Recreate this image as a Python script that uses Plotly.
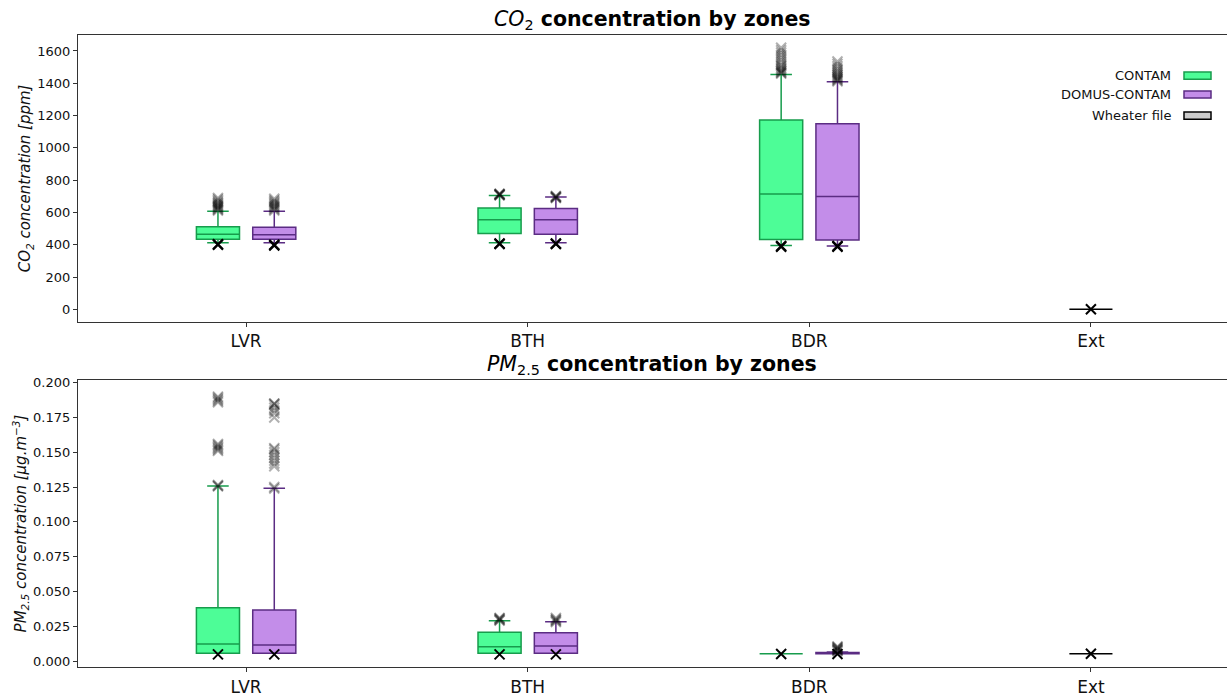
import plotly.graph_objects as go

# ---------------- data ----------------
zones = ["LVR", "BTH", "BDR", "Ext"]
series = ["CONTAM", "DOMUS-CONTAM", "Wheater file"]

# CO2 box statistics (ppm) per series, per zone
co2_contam_q1 = [434, 470, 432]
co2_contam_med = [465, 555, 714]
co2_contam_q3 = [512, 628, 1173]
co2_contam_lo = [413, 412, 395]
co2_contam_hi = [607, 705, 1455]

co2_domus_q1 = [434, 465, 430]
co2_domus_med = [462, 555, 699]
co2_domus_q3 = [508, 625, 1150]
co2_domus_lo = [413, 412, 393]
co2_domus_hi = [607, 695, 1409]

co2_ext = [0.0]  # weather file (Ext) stats: all zero

# CO2 outliers (high, low) per zone
co2_contam_out_hi = [
    [612, 618, 625, 630, 636, 642, 648, 655, 662, 670, 680, 690],
    [706, 708, 710, 712, 714, 716],
    [1460, 1465, 1470, 1478, 1485, 1495, 1505, 1515, 1530, 1545, 1560, 1575, 1590, 1605, 1620],
]
co2_contam_out_lo = [[400, 404], [405, 408], [388, 392]]
co2_domus_out_hi = [
    [612, 620, 628, 635, 642, 650, 658, 666, 675, 685],
    [690, 693, 696, 699, 702],
    [1412, 1418, 1424, 1430, 1437, 1444, 1452, 1460, 1470, 1480, 1492, 1505, 1520, 1535],
]
co2_domus_out_lo = [[395, 400], [405, 408], [388, 392]]
co2_ext_out = [0.0]

# PM2.5 box statistics (ug/m3)
pm_contam_q1 = [0.0055, 0.0055, 0.0052]
pm_contam_med = [0.0122, 0.0103, 0.0052]
pm_contam_q3 = [0.0383, 0.0206, 0.0052]
pm_contam_lo = [0.0055, 0.0055, 0.0052]
pm_contam_hi = [0.1258, 0.0290, 0.0052]

pm_domus_q1 = [0.0055, 0.0055, 0.0052]
pm_domus_med = [0.0115, 0.0108, 0.0055]
pm_domus_q3 = [0.0367, 0.0203, 0.0062]
pm_domus_lo = [0.0055, 0.0055, 0.0052]
pm_domus_hi = [0.1241, 0.0282, 0.0065]

pm_ext = [0.0052]

pm_contam_out_hi = [
    [0.1255, 0.126, 0.1265, 0.151, 0.152, 0.153, 0.154, 0.155, 0.156, 0.186, 0.187, 0.188, 0.189, 0.190],
    [0.029, 0.0295, 0.030, 0.0305, 0.031],
    [],
]
pm_contam_out_lo = [[0.0048], [0.0048], [0.0050]]
pm_domus_out_hi = [
    [0.124, 0.125, 0.140, 0.142, 0.144, 0.146, 0.148, 0.150, 0.152, 0.153, 0.175, 0.178, 0.180, 0.182, 0.184, 0.185, 0.185],
    [0.028, 0.0288, 0.0295, 0.030, 0.031],
    [0.007, 0.0075, 0.008, 0.0085, 0.009, 0.0095, 0.010, 0.0105],
]
pm_domus_out_lo = [[0.0048], [0.0048], [0.0050]]
pm_ext_out = [0.0052]

co2_ticks = [0, 200, 400, 600, 800, 1000, 1200, 1400, 1600]
pm_ticks = [0.0, 0.025, 0.05, 0.075, 0.1, 0.125, 0.15, 0.175, 0.2]

# ---------------- style ----------------
GREEN_F, GREEN_L = "#4dfd97", "#179c4c"
PURP_F, PURP_L = "#c38de9", "#5b2c83"
GREY_F, GREY_L = "#cccccc", "#000000"
FONT = "DejaVu Sans"
OFF = 0.1
BW = 0.153

fig = go.Figure()


def add_box(pos, q1, med, q3, lo, hi, fill, line, xa, ya):
    fig.add_trace(go.Box(
        x=[pos], q1=[q1], median=[med], q3=[q3], lowerfence=[lo], upperfence=[hi],
        width=BW, whiskerwidth=0.5, fillcolor=fill,
        line=dict(color=line, width=1.5), boxpoints=False,
        xaxis=xa, yaxis=ya, showlegend=False, hoverinfo="skip"))


def add_out(xs, ys, op, xa, ya):
    if not ys:
        return
    fig.add_trace(go.Scatter(
        x=xs, y=ys, mode="markers", xaxis=xa, yaxis=ya, showlegend=False,
        marker=dict(symbol="x-thin", size=10, color="black", opacity=op,
                    line=dict(width=2, color="black")), hoverinfo="skip"))


def panel(xa, ya, cq1, cmed, cq3, clo, chi, dq1, dmed, dq3, dlo, dhi, ext,
          c_hi, c_lo, d_hi, d_lo, ext_out):
    for i in range(3):
        add_box(i - OFF, cq1[i], cmed[i], cq3[i], clo[i], chi[i], GREEN_F, GREEN_L, xa, ya)
        add_box(i + OFF, dq1[i], dmed[i], dq3[i], dlo[i], dhi[i], PURP_F, PURP_L, xa, ya)
        add_out([i - OFF] * len(c_hi[i]), c_hi[i], 0.3, xa, ya)
        add_out([i + OFF] * len(d_hi[i]), d_hi[i], 0.3, xa, ya)
        add_out([i - OFF] * len(c_lo[i]), c_lo[i], 1.0, xa, ya)
        add_out([i + OFF] * len(d_lo[i]), d_lo[i], 1.0, xa, ya)
    add_box(3, ext[0], ext[0], ext[0], ext[0], ext[0], GREY_F, GREY_L, xa, ya)
    add_out([3] * len(ext_out), ext_out, 1.0, xa, ya)


panel("x", "y", co2_contam_q1, co2_contam_med, co2_contam_q3, co2_contam_lo, co2_contam_hi,
      co2_domus_q1, co2_domus_med, co2_domus_q3, co2_domus_lo, co2_domus_hi, co2_ext,
      co2_contam_out_hi, co2_contam_out_lo, co2_domus_out_hi, co2_domus_out_lo, co2_ext_out)
panel("x2", "y2", pm_contam_q1, pm_contam_med, pm_contam_q3, pm_contam_lo, pm_contam_hi,
      pm_domus_q1, pm_domus_med, pm_domus_q3, pm_domus_lo, pm_domus_hi, pm_ext,
      pm_contam_out_hi, pm_contam_out_lo, pm_domus_out_hi, pm_domus_out_lo, pm_ext_out)

axis_common = dict(showline=True, mirror=True, linecolor="#333333", linewidth=1.2,
                   ticks="outside", ticklen=4, tickcolor="#333333", showgrid=False,
                   zeroline=False, automargin=False)
xcommon = dict(axis_common, tickvals=[0, 1, 2, 3], ticktext=zones, range=[-0.597, 3.501],
               tickfont=dict(size=17, color="#111"))

# figure runs a few px past the right edge of the window (as the reference is cropped)
W, H = 1232, 695
L, T, B = 78, 35, 28
PW, PH = W - L, H - T - B

fig.update_layout(
    width=W, height=H,
    margin=dict(l=L, r=0, t=T, b=B, autoexpand=False),
    plot_bgcolor="white", paper_bgcolor="white",
    font=dict(family=FONT, color="#111"),
    boxmode="overlay",
    xaxis=dict(xcommon, anchor="y", domain=[0, 1]),
    xaxis2=dict(xcommon, anchor="y2", domain=[0, 1]),
    yaxis=dict(axis_common, domain=[0.546, 1], range=[-78, 1699], tickvals=co2_ticks,
               tickfont=dict(size=13, color="#111"),
               title=dict(text="<i>CO<sub>2</sub> concentration [ppm]</i>",
                          font=dict(size=15), standoff=2)),
    yaxis2=dict(axis_common, domain=[0, 0.454], range=[-0.0043, 0.2019], tickvals=pm_ticks,
                tickformat=".3f", tickfont=dict(size=13, color="#111"),
                title=dict(text="<i>PM<sub>2.5</sub> concentration [µg.m<sup>−3</sup>]</i>",
                           font=dict(size=15), standoff=2)),
)

annotations = [
    dict(text="<i>CO</i><sub>2</sub><b> concentration by zones</b>", x=(652 - 78) / PW, y=1.0237,
         xref="paper", yref="paper", xanchor="center", yanchor="middle", showarrow=False,
         font=dict(size=20.5, color="black")),
    dict(text="<i>PM</i><sub>2.5</sub><b> concentration by zones</b>", x=(652 - 78) / PW, y=0.478,
         xref="paper", yref="paper", xanchor="center", yanchor="middle", showarrow=False,
         font=dict(size=20.5, color="black")),
]
shapes = []
leg = [(series[0], GREEN_F, GREEN_L, 75.7), (series[1], PURP_F, PURP_L, 94.5),
       (series[2], GREY_F, GREY_L, 115.7)]
for name, f, l, ypx in leg:
    yp = (667 - ypx) / PH
    annotations.append(dict(text=name, x=(1173 - 78) / PW, y=yp, xref="paper", yref="paper",
                            xanchor="right", yanchor="middle", showarrow=False,
                            font=dict(size=13, color="#111")))
    shapes.append(dict(type="rect", xref="paper", yref="paper",
                       x0=(1184 - 78) / PW, x1=(1211 - 78) / PW,
                       y0=yp - 3.6 / PH, y1=yp + 3.6 / PH,
                       fillcolor=f, line=dict(color=l, width=1.5)))
fig.update_layout(annotations=annotations, shapes=shapes)

fig.write_html(
    "out.html",
    config={"displayModeBar": False},
    post_script=("document.documentElement.style.overflow='hidden';"
                 "document.body.style.margin='0';document.body.style.overflow='hidden';"),
)
